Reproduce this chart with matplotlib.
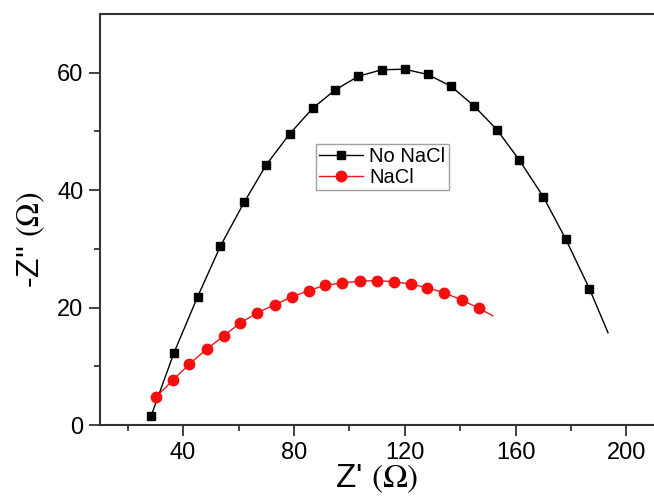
import numpy as np
import matplotlib
matplotlib.use('Agg')
import matplotlib.pyplot as plt

plt.rcParams['font.family'] = ['Liberation Sans', 'DejaVu Sans']
plt.rcParams['mathtext.fontset'] = 'stix'

# No NaCl (markers)
no_nacl_x = [28.5, 36.7, 45.2, 53.5, 62.0, 70.0, 78.5, 86.9, 95.0, 103.3,
             111.7, 120.0, 128.3, 136.7, 144.9, 153.3, 161.4, 170.0, 178.2, 186.7]
no_nacl_y = [1.6, 12.3, 21.8, 30.5, 37.9, 44.3, 49.6, 54.0, 57.1, 59.4,
             60.5, 60.6, 59.7, 57.7, 54.4, 50.3, 45.1, 38.9, 31.6, 23.2]
# fitted line runs a little past the last marker
no_nacl_end = (193.4, 15.7)

# NaCl
nacl_x = [30.1, 36.2, 42.3, 48.5, 54.7, 60.7, 66.8, 73.1, 79.2, 85.3, 91.4,
          97.5, 103.7, 109.9, 116.1, 122.1, 128.1, 134.3, 140.6, 146.7]
nacl_y = [4.7, 7.6, 10.4, 12.9, 15.2, 17.4, 19.1, 20.5, 21.8, 22.9, 23.8,
          24.2, 24.5, 24.6, 24.4, 24.0, 23.4, 22.5, 21.3, 19.9]
nacl_end = (151.8, 18.6)

fig = plt.figure(figsize=(6.54, 5.04), dpi=100)
ax = fig.add_axes([100 / 654, 1 - 425 / 504, 554 / 654, 411 / 504])

# fit lines
ax.plot(no_nacl_x + [no_nacl_end[0]], no_nacl_y + [no_nacl_end[1]],
        color='black', lw=1.0, zorder=2)
ax.plot(nacl_x + [nacl_end[0]], nacl_y + [nacl_end[1]],
        color='#e8191d', lw=1.0, zorder=2)
# markers
ax.plot(no_nacl_x, no_nacl_y, ls='none', marker='s', ms=6, color='black', zorder=3)
ax.plot(nacl_x, nacl_y, ls='none', marker='o', ms=7.5, color='#f50f0f', zorder=3)

# legend proxies (line + marker)
h1, = ax.plot([], [], color='black', lw=1.0, marker='s', ms=6, label='No NaCl')
h2, = ax.plot([], [], color='#e8191d', lw=1.0, marker='o', ms=7.5,
              markerfacecolor='#f50f0f', markeredgecolor='#f50f0f', label='NaCl')
leg = ax.legend(handles=[h1, h2], loc='upper left',
                bbox_to_anchor=((316 - 100) / 554, (425 - 144) / 411),
                fontsize=14.5, frameon=True, fancybox=False, borderpad=0.15,
                handlelength=2.2, handletextpad=0.3, labelspacing=0.1,
                borderaxespad=0)
leg.get_frame().set_edgecolor('#888888')
leg.get_frame().set_linewidth(1.0)

ax.set_xlim(10, 210)
ax.set_ylim(0, 70)
ax.set_xticks([40, 80, 120, 160, 200])
ax.set_xticks([20, 60, 100, 140, 180], minor=True)
ax.set_yticks([0, 20, 40, 60])
ax.set_yticks([10, 30, 50], minor=True)

ax.tick_params(which='major', direction='out', length=8, width=1.3,
               labelsize=17, color='#333333', pad=4)
ax.tick_params(which='minor', direction='out', length=4, width=1.3, color='#333333')
for s in ['left', 'bottom', 'top']:
    ax.spines[s].set_linewidth(1.5)
    ax.spines[s].set_color('#333333')
ax.spines['right'].set_visible(False)

ax.set_xlabel(r"Z' $\mathrm{(\Omega)}$", fontsize=24)
ax.set_ylabel(r"-Z'' $\mathrm{(\Omega)}$", fontsize=23)
ax.xaxis.set_label_coords(0.5, -(462 - 425) / 411)
ax.yaxis.set_label_coords(-(100 - 47) / 554, (425 - 240) / 411)

fig.savefig('out.png', dpi=100)
